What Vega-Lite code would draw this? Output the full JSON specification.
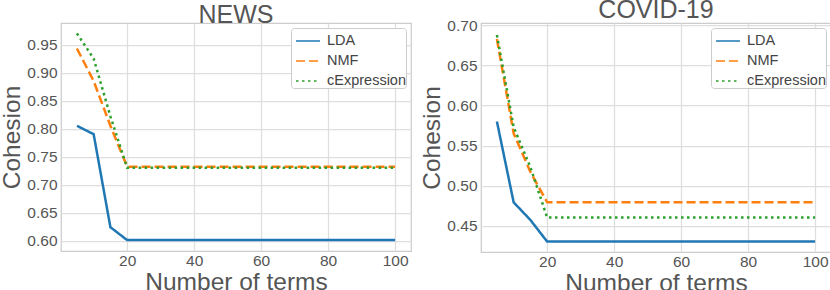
{
  "$schema": "https://vega.github.io/schema/vega-lite/v6.json",
  "padding": {"left": -2, "top": -3, "right": 0, "bottom": 0},
  "datasets": {
    "news": [
      {"n": 5, "method": "LDA", "cohesion": 0.805},
      {"n": 10, "method": "LDA", "cohesion": 0.790},
      {"n": 15, "method": "LDA", "cohesion": 0.624},
      {"n": 20, "method": "LDA", "cohesion": 0.601},
      {"n": 40, "method": "LDA", "cohesion": 0.601},
      {"n": 60, "method": "LDA", "cohesion": 0.601},
      {"n": 80, "method": "LDA", "cohesion": 0.601},
      {"n": 100, "method": "LDA", "cohesion": 0.601},
      {"n": 5, "method": "NMF", "cohesion": 0.943},
      {"n": 10, "method": "NMF", "cohesion": 0.885},
      {"n": 15, "method": "NMF", "cohesion": 0.805},
      {"n": 20, "method": "NMF", "cohesion": 0.732},
      {"n": 40, "method": "NMF", "cohesion": 0.732},
      {"n": 60, "method": "NMF", "cohesion": 0.732},
      {"n": 80, "method": "NMF", "cohesion": 0.732},
      {"n": 100, "method": "NMF", "cohesion": 0.732},
      {"n": 5, "method": "cExpression", "cohesion": 0.970},
      {"n": 10, "method": "cExpression", "cohesion": 0.925},
      {"n": 15, "method": "cExpression", "cohesion": 0.822},
      {"n": 20, "method": "cExpression", "cohesion": 0.730},
      {"n": 40, "method": "cExpression", "cohesion": 0.730},
      {"n": 60, "method": "cExpression", "cohesion": 0.730},
      {"n": 80, "method": "cExpression", "cohesion": 0.730},
      {"n": 100, "method": "cExpression", "cohesion": 0.730}
    ],
    "covid": [
      {"n": 5, "method": "LDA", "cohesion": 0.580},
      {"n": 10, "method": "LDA", "cohesion": 0.479},
      {"n": 15, "method": "LDA", "cohesion": 0.457},
      {"n": 20, "method": "LDA", "cohesion": 0.430},
      {"n": 40, "method": "LDA", "cohesion": 0.430},
      {"n": 60, "method": "LDA", "cohesion": 0.430},
      {"n": 80, "method": "LDA", "cohesion": 0.430},
      {"n": 100, "method": "LDA", "cohesion": 0.430},
      {"n": 5, "method": "NMF", "cohesion": 0.683},
      {"n": 10, "method": "NMF", "cohesion": 0.565},
      {"n": 15, "method": "NMF", "cohesion": 0.517},
      {"n": 20, "method": "NMF", "cohesion": 0.479},
      {"n": 40, "method": "NMF", "cohesion": 0.479},
      {"n": 60, "method": "NMF", "cohesion": 0.479},
      {"n": 80, "method": "NMF", "cohesion": 0.479},
      {"n": 100, "method": "NMF", "cohesion": 0.479},
      {"n": 5, "method": "cExpression", "cohesion": 0.688},
      {"n": 10, "method": "cExpression", "cohesion": 0.573},
      {"n": 15, "method": "cExpression", "cohesion": 0.523},
      {"n": 20, "method": "cExpression", "cohesion": 0.460},
      {"n": 40, "method": "cExpression", "cohesion": 0.460},
      {"n": 60, "method": "cExpression", "cohesion": 0.460},
      {"n": 80, "method": "cExpression", "cohesion": 0.460},
      {"n": 100, "method": "cExpression", "cohesion": 0.460}
    ]
  },
  "config": {
    "font": "Liberation Sans",
    "view": {"stroke": "#cccccc", "strokeWidth": 1.25},
    "axis": {
      "grid": true, "gridColor": "#dedede", "gridWidth": 1.25,
      "domain": false, "ticks": false,
      "labelFontSize": 15.5, "labelColor": "#555555", "labelPadding": 4,
      "titleFontSize": 24.5, "titleColor": "#555555", "titleFontWeight": "normal"
    },
    "axisX": {"labelPadding": 2, "titlePadding": 2},
    "title": {"fontSize": 25, "fontWeight": "normal", "color": "#555555", "offset": -5},
    "legend": {
      "orient": "top-right", "offset": 5,
      "fillColor": "white", "strokeColor": "#cccccc", "cornerRadius": 3,
      "padding": 0, "rowPadding": -8, "symbolOffset": 4,
      "labelFontSize": 14.5, "labelColor": "#444444", "labelOffset": 6,
      "symbolType": "stroke", "symbolSize": 576, "symbolStrokeWidth": 1.5
    },
    "concat": {"spacing": 6}
  },
  "resolve": {"legend": {"color": "independent", "strokeDash": "independent"}},
  "hconcat": [
    {
      "width": 350, "height": 228,
      "title": "NEWS",
      "data": {"name": "news"},
      "mark": {"type": "line", "strokeWidth": 2.5},
      "encoding": {
        "x": {"field": "n", "type": "quantitative",
          "scale": {"domain": [0.25, 104.75], "nice": false, "zero": false},
          "axis": {"values": [20, 40, 60, 80, 100], "title": "Number of terms"}},
        "y": {"field": "cohesion", "type": "quantitative",
          "scale": {"domain": [0.5815, 0.9885], "nice": false, "zero": false},
          "axis": {"values": [0.6, 0.65, 0.7, 0.75, 0.8, 0.85, 0.9, 0.95], "format": ".2f", "title": "Cohesion", "titlePadding": 2.5}},
        "color": {"field": "method", "type": "nominal",
          "scale": {"domain": ["LDA", "NMF", "cExpression"], "range": ["#1f77b4", "#ff7f0e", "#2ca02c"]},
          "legend": {"title": null}},
        "strokeDash": {"field": "method", "type": "nominal",
          "scale": {"domain": ["LDA", "NMF", "cExpression"], "range": [[1, 0], [9, 4], [2.5, 3.5]]},
          "legend": {"title": null}}
      }
    },
    {
      "width": 350, "height": 229,
      "title": "COVID-19",
      "data": {"name": "covid"},
      "mark": {"type": "line", "strokeWidth": 2.5},
      "encoding": {
        "x": {"field": "n", "type": "quantitative",
          "scale": {"domain": [0.25, 104.75], "nice": false, "zero": false},
          "axis": {"values": [20, 40, 60, 80, 100], "title": "Number of terms"}},
        "y": {"field": "cohesion", "type": "quantitative",
          "scale": {"domain": [0.417, 0.703], "nice": false, "zero": false},
          "axis": {"values": [0.45, 0.5, 0.55, 0.6, 0.65, 0.7], "format": ".2f", "title": "Cohesion", "titlePadding": 2.5}},
        "color": {"field": "method", "type": "nominal",
          "scale": {"domain": ["LDA", "NMF", "cExpression"], "range": ["#1f77b4", "#ff7f0e", "#2ca02c"]},
          "legend": {"title": null}},
        "strokeDash": {"field": "method", "type": "nominal",
          "scale": {"domain": ["LDA", "NMF", "cExpression"], "range": [[1, 0], [9, 4], [2.5, 3.5]]},
          "legend": {"title": null}}
      }
    }
  ]
}
